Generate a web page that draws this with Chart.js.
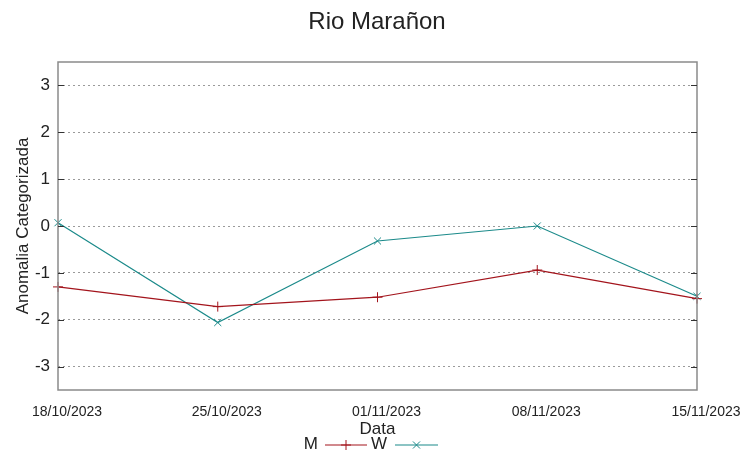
<!DOCTYPE html>
<html>
<head>
<meta charset="utf-8">
<script src="https://cdn.jsdelivr.net/npm/chart.js@4.4.1/dist/chart.umd.min.js"></script>
<style>
  html, body { margin: 0; padding: 0; background: #fff; }
  #wrap { width: 753px; height: 459px; }
</style>
</head>
<body>
<div id="wrap"><canvas id="chart"></canvas></div>
<script>
// ── DATA ─────────────────────────────────────────────
const dates = ['18/10/2023', '25/10/2023', '01/11/2023', '08/11/2023', '15/11/2023'];
const seriesM = [-1.30, -1.72, -1.52, -0.94, -1.55];
const seriesW = [0.07, -2.06, -0.32, 0.00, -1.50];
const yTicks = [-3, -2, -1, 0, 1, 2, 3];

const RED = '#a3141c';
const TEAL = '#1b8a8a';
const FRAME = '#8a8a8a';
const FONT = '"Liberation Sans", Arial, sans-serif';

// box, inward ticks, title and gnuplot-like legend
const decorPlugin = {
  id: 'decor',
  afterDraw(chart) {
    const { ctx, chartArea: a } = chart;
    const y = chart.scales.y;
    ctx.save();
    ctx.strokeStyle = FRAME;
    ctx.lineWidth = 1.5;
    ctx.strokeRect(a.left, a.top, a.right - a.left, a.bottom - a.top);
    ctx.lineWidth = 1;
    ctx.strokeStyle = '#333';
    yTicks.forEach(v => {
      const py = Math.round(y.getPixelForValue(v)) + 0.5;
      ctx.beginPath();
      ctx.moveTo(a.left, py); ctx.lineTo(a.left + 6, py);
      ctx.moveTo(a.right, py); ctx.lineTo(a.right - 6, py);
      ctx.stroke();
    });

    // title
    ctx.fillStyle = '#222';
    ctx.font = '24px ' + FONT;
    ctx.textAlign = 'center';
    ctx.textBaseline = 'middle';
    ctx.fillText('Rio Marañon', 377, 22);

    // legend
    const ly = 445;
    const items = [
      { label: 'M', ds: chart.data.datasets[0], tx: 318, x0: 325, x1: 367 },
      { label: 'W', ds: chart.data.datasets[1], tx: 387, x0: 395, x1: 438 }
    ];
    ctx.font = '17px ' + FONT;
    ctx.textAlign = 'right';
    items.forEach(it => {
      ctx.fillStyle = '#222';
      ctx.fillText(it.label, it.tx, ly - 1);
      ctx.strokeStyle = it.ds.borderColor;
      ctx.lineWidth = 1.2;
      ctx.beginPath();
      ctx.moveTo(it.x0, ly); ctx.lineTo(it.x1, ly);
      ctx.stroke();
      const mx = (it.x0 + it.x1) / 2;
      ctx.lineWidth = 1;
      Chart.helpers.drawPoint(ctx, {
        pointStyle: it.ds.pointStyle, radius: 5, borderWidth: 1
      }, mx, ly);
    });
    ctx.restore();
  }
};

new Chart(document.getElementById('chart'), {
  type: 'line',
  data: {
    labels: dates,
    datasets: [
      {
        label: 'M',
        data: seriesM,
        borderColor: RED,
        backgroundColor: RED,
        pointBorderColor: RED,
        borderWidth: 1.2,
        pointStyle: 'cross',
        pointRadius: 5,
        pointBorderWidth: 1,
        tension: 0
      },
      {
        label: 'W',
        data: seriesW,
        borderColor: TEAL,
        backgroundColor: TEAL,
        pointBorderColor: TEAL,
        borderWidth: 1.2,
        pointStyle: 'crossRot',
        pointRadius: 5,
        pointBorderWidth: 1,
        tension: 0
      }
    ]
  },
  options: {
    responsive: true,
    maintainAspectRatio: false,
    animation: false,
    layout: { padding: { top: 62, right: 56, left: 0, bottom: 0 } },
    plugins: {
      legend: { display: false },
      title: { display: false },
      tooltip: { enabled: false }
    },
    scales: {
      x: {
        type: 'category',
        offset: false,
        grid: { display: false, drawTicks: false },
        border: { display: false },
        ticks: {
          color: '#222',
          padding: 14,
          labelOffset: 9,
          maxRotation: 0,
          autoSkip: false,
          font: { family: FONT, size: 14 }
        },
        title: {
          display: true,
          text: 'Data',
          color: '#222',
          padding: { top: 0, bottom: 19 },
          font: { family: FONT, size: 17 }
        },
        afterFit(scale) { scale.height = 69; }
      },
      y: {
        min: -3.5,
        max: 3.5,
        afterBuildTicks(scale) { scale.ticks = yTicks.map(v => ({ value: v })); },
        grid: { color: '#9a9a9a', lineWidth: 1, drawTicks: false },
        border: { display: false, dash: [2, 3] },
        ticks: {
          color: '#222',
          padding: 8,
          font: { family: FONT, size: 17 }
        },
        title: {
          display: true,
          text: 'Anomalia Categorizada',
          color: '#222',
          padding: { top: 13, bottom: 0 },
          font: { family: FONT, size: 17 }
        },
        afterFit(scale) { scale.width = 58; }
      }
    }
  },
  plugins: [decorPlugin]
});
</script>
</body>
</html>
